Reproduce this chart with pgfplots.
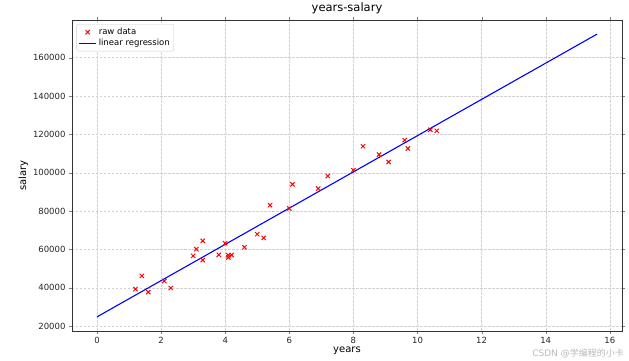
\documentclass[border=0pt]{standalone}
\usepackage{pgfplots}
\pgfplotsset{compat=1.18}
\usepackage{fontspec}
\setmainfont{DejaVu Sans}
\newfontfamily\cjk{Noto Sans CJK SC}
\begin{document}
\begin{tikzpicture}[x=1pt,y=1pt]
\begin{axis}[
  at={(0,0)}, anchor=south west,
  scale only axis, width=550pt, height=311pt,
  xmin=-0.78, xmax=16.38, ymin=17476, ymax=179638,
  xtick={0,2,...,16}, ytick={20000,40000,...,160000},
  scaled y ticks=false,
  /pgf/number format/assume math mode=true,
  yticklabel style={/pgf/number format/.cd,fixed,1000 sep={}},
  tick label style={font=\fontsize{8.5}{10}\selectfont, text=black!85},
  label style={font=\fontsize{10}{12}\selectfont},
  title style={font=\fontsize{11.5}{13}\selectfont, yshift=-3pt},
  title={years-salary}, xlabel={years}, ylabel={salary},
  xlabel style={yshift=4pt}, ylabel style={yshift=-2pt},
  grid=major, major grid style={dash pattern=on 2.5pt off 1.5pt, gray!35, line width=0.4pt},
  tick align=outside, major tick length=3pt,
  axis line style={black!80, line width=0.8pt},
  legend style={font=\fontsize{8.5}{10}\selectfont, draw=gray!40, rounded corners=2pt, inner sep=2pt, at={(0.008,0.987)}, anchor=north west, row sep=-1pt},
  legend cell align=left,
]
\addplot[only marks, mark=x, mark size=3pt, red, line width=1pt] coordinates {
(1.2,39343)(1.4,46205)(1.6,37731)(2.1,43525)(2.3,39891)(3.0,56642)(3.1,60150)(3.3,54445)(3.3,64445)(3.8,57189)(4.0,63218)(4.1,55794)(4.1,56957)(4.2,57081)(4.6,61111)(5.0,67938)(5.2,66029)(5.4,83088)(6.0,81363)(6.1,93940)(6.9,91738)(7.2,98273)(8.0,101302)(8.3,113812)(8.8,109431)(9.1,105582)(9.6,116969)(9.7,112635)(10.4,122391)(10.6,121872)
};
\addlegendentry{raw data}
\addplot[blue, line width=1.1pt] coordinates {(0,24847)(15.6,172267)};
\addlegendentry{linear regression}
\end{axis}
\node[anchor=south east, text=gray!55, font=\fontsize{9}{10}\selectfont, inner sep=0pt] at (552,-27) {CSDN @\cjk 学编程的小卡};
\pgfresetboundingbox
\path[use as bounding box] (-72,-30) rectangle (557,331);
\end{tikzpicture}
\end{document}
